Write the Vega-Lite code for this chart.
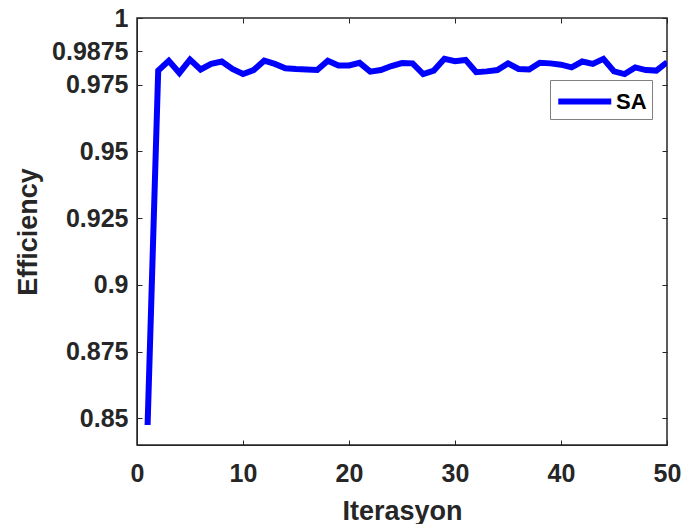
{
  "$schema": "https://vega.github.io/schema/vega-lite/v6.json",
  "width": 530,
  "height": 427,
  "autosize": {"type": "none"},
  "padding": {"left": 137, "top": 18, "right": 14, "bottom": 79},
  "background": "white",
  "config": {
    "font": "Liberation Sans",
    "view": {"stroke": "#262626", "strokeWidth": 1.5},
    "axis": {
      "labelFont": "Liberation Sans",
      "labelFontWeight": "bold",
      "labelFontSize": 25,
      "labelColor": "#262626",
      "titleFont": "Liberation Sans",
      "titleFontWeight": "bold",
      "titleFontSize": 27,
      "titleColor": "#262626",
      "domainColor": "#262626",
      "tickColor": "#262626",
      "gridColor": "#e3e3e3",
      "gridWidth": 1
    }
  },
  "data": {
    "values": [
      {"iter": 1, "eff": 0.8475, "series": "SA"},
      {"iter": 2, "eff": 0.9803, "series": "SA"},
      {"iter": 3, "eff": 0.9840, "series": "SA"},
      {"iter": 4, "eff": 0.9794, "series": "SA"},
      {"iter": 5, "eff": 0.9844, "series": "SA"},
      {"iter": 6, "eff": 0.9807, "series": "SA"},
      {"iter": 7, "eff": 0.9828, "series": "SA"},
      {"iter": 8, "eff": 0.9837, "series": "SA"},
      {"iter": 9, "eff": 0.9809, "series": "SA"},
      {"iter": 10, "eff": 0.9790, "series": "SA"},
      {"iter": 11, "eff": 0.9805, "series": "SA"},
      {"iter": 12, "eff": 0.9840, "series": "SA"},
      {"iter": 13, "eff": 0.9828, "series": "SA"},
      {"iter": 14, "eff": 0.9812, "series": "SA"},
      {"iter": 15, "eff": 0.9809, "series": "SA"},
      {"iter": 16, "eff": 0.9807, "series": "SA"},
      {"iter": 17, "eff": 0.9805, "series": "SA"},
      {"iter": 18, "eff": 0.9840, "series": "SA"},
      {"iter": 19, "eff": 0.9822, "series": "SA"},
      {"iter": 20, "eff": 0.9822, "series": "SA"},
      {"iter": 21, "eff": 0.9832, "series": "SA"},
      {"iter": 22, "eff": 0.9799, "series": "SA"},
      {"iter": 23, "eff": 0.9805, "series": "SA"},
      {"iter": 24, "eff": 0.9820, "series": "SA"},
      {"iter": 25, "eff": 0.9831, "series": "SA"},
      {"iter": 26, "eff": 0.9830, "series": "SA"},
      {"iter": 27, "eff": 0.9790, "series": "SA"},
      {"iter": 28, "eff": 0.9803, "series": "SA"},
      {"iter": 29, "eff": 0.9847, "series": "SA"},
      {"iter": 30, "eff": 0.9838, "series": "SA"},
      {"iter": 31, "eff": 0.9843, "series": "SA"},
      {"iter": 32, "eff": 0.9797, "series": "SA"},
      {"iter": 33, "eff": 0.9800, "series": "SA"},
      {"iter": 34, "eff": 0.9805, "series": "SA"},
      {"iter": 35, "eff": 0.9830, "series": "SA"},
      {"iter": 36, "eff": 0.9809, "series": "SA"},
      {"iter": 37, "eff": 0.9807, "series": "SA"},
      {"iter": 38, "eff": 0.9832, "series": "SA"},
      {"iter": 39, "eff": 0.9830, "series": "SA"},
      {"iter": 40, "eff": 0.9825, "series": "SA"},
      {"iter": 41, "eff": 0.9815, "series": "SA"},
      {"iter": 42, "eff": 0.9837, "series": "SA"},
      {"iter": 43, "eff": 0.9828, "series": "SA"},
      {"iter": 44, "eff": 0.9847, "series": "SA"},
      {"iter": 45, "eff": 0.9800, "series": "SA"},
      {"iter": 46, "eff": 0.9790, "series": "SA"},
      {"iter": 47, "eff": 0.9815, "series": "SA"},
      {"iter": 48, "eff": 0.9805, "series": "SA"},
      {"iter": 49, "eff": 0.9803, "series": "SA"},
      {"iter": 50, "eff": 0.9834, "series": "SA"}
    ]
  },
  "layer": [
    {
      "mark": {"type": "line", "opacity": 0},
      "encoding": {
        "x": {
          "field": "iter",
          "type": "quantitative",
          "scale": {"domain": [0, 50], "nice": false, "zero": false},
          "axis": {
            "orient": "top",
            "title": null,
            "labels": false,
            "grid": false,
            "domain": false,
            "values": [0, 10, 20, 30, 40, 50],
            "tickSize": -5
          }
        },
        "y": {
          "field": "eff",
          "type": "quantitative",
          "scale": {"domain": [0.84, 1], "nice": false, "zero": false},
          "axis": {
            "orient": "right",
            "title": null,
            "labels": false,
            "grid": false,
            "domain": false,
            "values": [0.85, 0.875, 0.9, 0.925, 0.95, 0.975, 0.9875, 1],
            "tickSize": -5
          }
        }
      }
    },
    {
      "mark": {"type": "line", "strokeWidth": 6, "strokeJoin": "miter", "clip": true},
      "encoding": {
        "x": {
          "field": "iter",
          "type": "quantitative",
          "scale": {"domain": [0, 50], "nice": false, "zero": false},
          "axis": {
            "orient": "bottom",
            "title": "Iterasyon",
            "values": [0, 10, 20, 30, 40, 50],
            "format": "d",
            "tickSize": -5,
            "labelPadding": 21,
            "labelFlush": false,
            "labelOverlap": false,
            "titleY": 66,
            "titleBaseline": "middle",
            "domain": true
          }
        },
        "y": {
          "field": "eff",
          "type": "quantitative",
          "scale": {"domain": [0.84, 1], "nice": false, "zero": false},
          "axis": {
            "orient": "left",
            "title": "Efficiency",
            "values": [0.85, 0.875, 0.9, 0.925, 0.95, 0.975, 0.9875, 1],
            "format": ".5~g",
            "tickSize": -5,
            "labelPadding": 14,
            "labelFlush": false,
            "labelOverlap": false,
            "titleX": -109,
            "titleBaseline": "middle",
            "domain": true
          }
        },
        "color": {
          "field": "series",
          "type": "nominal",
          "scale": {"range": ["#0000ff"]},
          "legend": {
            "title": null,
            "orient": "none",
            "legendX": 413,
            "legendY": 62,
            "symbolType": "M-1,0H3",
            "symbolSize": 702,
            "symbolStrokeWidth": 6,
            "symbolFillColor": "transparent",
            "labelOffset": 28,
            "labelFont": "Liberation Sans",
            "labelFontSize": 22,
            "labelFontWeight": "bold",
            "labelColor": "#000000",
            "strokeColor": "#808080",
            "fillColor": "white",
            "padding": 5
          }
        }
      }
    }
  ],
  "resolve": {"axis": {"x": "independent", "y": "independent"}}
}
